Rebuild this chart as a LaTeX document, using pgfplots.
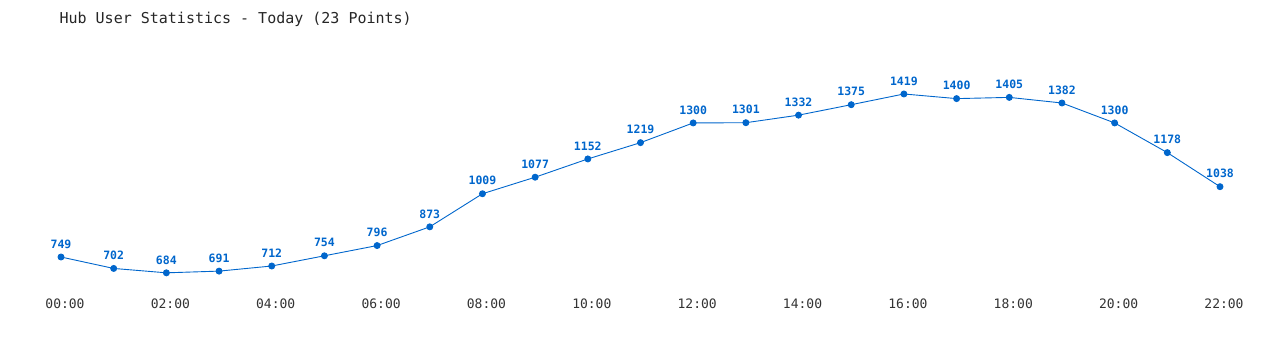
\documentclass[border=0pt]{standalone}
\usepackage{pgfplots}
\pgfplotsset{compat=1.18}
\usepackage{fontspec}
\setmonofont{DejaVu Sans Mono}
\definecolor{lineblue}{HTML}{0066CC}
\definecolor{ticktext}{HTML}{333333}
\begin{document}
\begin{tikzpicture}
\begin{axis}[
  scale only axis, width=1280pt, height=350pt,
  xmin=-1.158, xmax=23.139, ymin=366.8, ymax=1805.3,
  axis line style={draw=none},
  major tick length=0pt,
  ytick=\empty,
  xtick={0,2,...,22},
  xticklabels={00:00,02:00,04:00,06:00,08:00,10:00,12:00,14:00,16:00,18:00,20:00,22:00},
  xticklabel style={font=\fontsize{13}{13}\selectfont\ttfamily, text=ticktext, anchor=center, yshift=46pt, xshift=4pt},
  title={Hub User Statistics - Today (23 Points)},
  title style={at={(axis description cs:0.0438,0.9286)}, anchor=west, font=\fontsize{15}{15}\selectfont\ttfamily, text=black!85},
  clip=false,
  nodes near coords,
  point meta=explicit symbolic,
  nodes near coords style={font=\fontsize{11.5}{11.5}\selectfont\ttfamily\bfseries, text=lineblue, anchor=center, yshift=13pt},
]
\addplot[color=lineblue, line width=0.9pt, mark=*, mark size=3pt, mark options={fill=lineblue, draw=lineblue}]
coordinates {
(0,749)[749] (1,702)[702] (2,684)[684] (3,691)[691] (4,712)[712] (5,754)[754]
(6,796)[796] (7,873)[873] (8,1009)[1009] (9,1077)[1077] (10,1152)[1152] (11,1219)[1219]
(12,1300)[1300] (13,1301)[1301] (14,1332)[1332] (15,1375)[1375] (16,1419)[1419] (17,1400)[1400]
(18,1405)[1405] (19,1382)[1382] (20,1300)[1300] (21,1178)[1178] (22,1038)[1038]
};
\end{axis}
\pgfresetboundingbox
\useasboundingbox (current axis.south west) rectangle (current axis.north east);
\end{tikzpicture}
\end{document}
